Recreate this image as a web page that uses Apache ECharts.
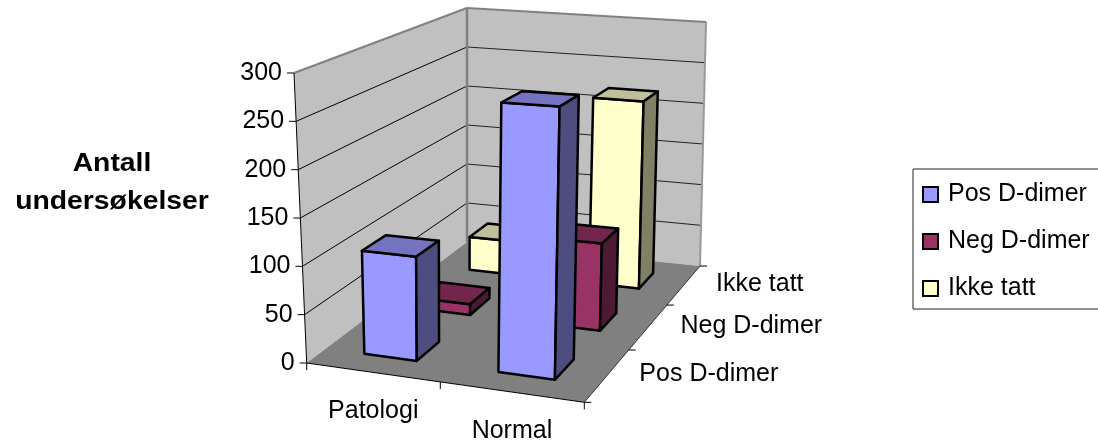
<!DOCTYPE html>
<html><head><meta charset="utf-8">
<style>html,body{margin:0;padding:0;background:#fff}#c{width:1098px;height:443px}</style>
<script src="https://cdn.jsdelivr.net/npm/echarts@6/dist/echarts.min.js"></script>
</head><body><div id="c"></div>
<script>
const categories = ['Patologi', 'Normal'];
const depthLabels = ['Pos D-dimer', 'Neg D-dimer', 'Ikke tatt'];
const valueTicks = [0, 50, 100, 150, 200, 250, 300];
const posValues = [108, 274];
const negValues = [12, 95];
const ikkeValues = [40, 220];

const FONT = '"Liberation Sans", Arial, sans-serif';
const floorQuad = [[306.7,363],[584.3,402.3],[700,266],[467,242]];
const roofQuad  = [[294,73],[590,92],[706,22],[467,8]];
function homography(q){
  const [[x0,y0],[x1,y1],[x2,y2],[x3,y3]] = q;
  const dx1=x1-x2, dx2=x3-x2, sx=x0-x1+x2-x3, dy1=y1-y2, dy2=y3-y2, sy=y0-y1+y2-y3;
  const det=dx1*dy2-dx2*dy1, g=(sx*dy2-dx2*sy)/det, h=(dx1*sy-sx*dy1)/det;
  const a=x1-x0+g*x1, b=x3-x0+h*x3, d=y1-y0+g*y1, e=y3-y0+h*y3;
  return (u,v)=>{const w=g*u+h*v+1;return [(a*u+b*v+x0)/w,(d*u+e*v+y0)/w];};
}
const floorH=homography(floorQuad), roofH=homography(roofQuad);
// u: category units, v: depth units, t: fraction of the value axis
function project(u,v,t){
  const f=floorH(u/categories.length,v/depthLabels.length), r=roofH(u/categories.length,v/depthLabels.length);
  return [f[0]+(r[0]-f[0])*t, f[1]+(r[1]-f[1])*t];
}
function axisFrac(api,val){
  const y0=api.coord([0,0])[1], y1=api.coord([0,valueTicks[valueTicks.length-1]])[1];
  return (y0-api.coord([0,val])[1])/(y0-y1);
}
const poly=(pts,fill,stroke,lw)=>({type:'polygon',shape:{points:pts},style:{fill:fill,stroke:stroke||null,lineWidth:lw||0,lineJoin:'round'},silent:true});
const line=(a,b,stroke,lw)=>({type:'line',shape:{x1:a[0],y1:a[1],x2:b[0],y2:b[1]},style:{stroke:stroke,lineWidth:lw,fill:null},silent:true});
const txt=(s,x,y,align)=>({type:'text',x:x,y:y,style:{text:s,fill:'#000',font:'25px '+FONT,align:align,verticalAlign:'middle'},silent:true});

function renderFrame(params,api){
  const n=categories.length,m=depthLabels.length,c=[];
  c.push(poly([project(0,0,0),project(0,m,0),project(0,m,1),project(0,0,1)],'#C0C0C0'));
  c.push(poly([project(0,m,0),project(n,m,0),project(n,m,1),project(0,m,1)],'#C0C0C0'));
  c.push(poly([project(0,0,0),project(n,0,0),project(n,m,0),project(0,m,0)],'#808080'));
  valueTicks.forEach(val=>{
    const t=axisFrac(api,val);
    if(val>0&&val<valueTicks[valueTicks.length-1]){
      c.push(line(project(0,0,t),project(0,m,t),'#000',1));
      c.push(line(project(0,m,t),project(n,m,t),'#222',1));
    }
    const p=project(0,0,t);
    c.push(line([p[0]-7,p[1]],p,'#000',1));
    c.push(txt(String(val),p[0]-12,p[1],'right'));
  });
  c.push(line(project(0,m,0),project(0,m,1),'#808080',2.5));
  c.push(line(project(0,0,1),project(0,m,1),'#808080',2));
  c.push(line(project(0,m,1),project(n,m,1),'#808080',2));
  c.push(line(project(n,m,0),project(n,m,1),'#999',2));
  c.push(line(project(0,0,0),project(0,0,1),'#000',1));
  c.push(line(project(0,0,0),project(n,0,0),'#000',1));
  c.push(line(project(n,0,0),project(n,m,0),'#333',1));
  for(let i=0;i<=n;i++){const p=project(i,0,0);c.push(line(p,[p[0],p[1]+7],'#000',1));}
  for(let j=0;j<=m;j++){const p=project(n,j,0);c.push(line(p,[p[0]+7,p[1]],'#000',1));}
  categories.forEach((s,i)=>{const p=project(i+.5,0,0);c.push(txt(s,p[0]+1,p[1]+39,'center'));});
  depthLabels.forEach((s,j)=>{const p=project(n,j+.5,0);c.push(txt(s,p[0]+32,p[1]-1,'left'));});
  return {type:'group',children:c};
}
function shade(hex,k){
  const v=parseInt(hex.slice(1),16),f=x=>Math.round(x*k);
  return 'rgb('+f(v>>16)+','+f((v>>8)&255)+','+f(v&255)+')';
}
function barRenderer(depth,color){
  return function(params,api){
    const i=api.value(0),t=axisFrac(api,api.value(1));
    const u0=i+.3,u1=i+.7,v0=depth+.3,v1=depth+.7;
    const fb=[project(u0,v0,0),project(u1,v0,0)],ft=[project(u0,v0,t),project(u1,v0,t)];
    const bb=project(u1,v1,0),bt=[project(u0,v1,t),project(u1,v1,t)];
    return {type:'group',children:[
      poly([fb[0],fb[1],ft[1],ft[0]],color,'#000',2.5),
      poly([ft[0],ft[1],bt[1],bt[0]],shade(color,.75),'#000',2.5),
      poly([fb[1],bb,bt[1],ft[1]],shade(color,.5),'#000',2.5)
    ]};
  };
}
const pairs=vals=>vals.map((v,i)=>[i,v]);
const barSeries=(name,vals,depth,color)=>({
  type:'custom',name:name,data:pairs(vals),encode:{x:0,y:1},
  itemStyle:{color:color,borderColor:'#000',borderWidth:2},
  renderItem:barRenderer(depth,color),silent:true,animation:false
});
const chart=echarts.init(document.getElementById('c'),null,{renderer:'canvas'});
chart.setOption({
  animation:false,
  backgroundColor:'#fff',
  grid:{left:294,top:73,width:290,height:290},
  xAxis:{type:'category',data:categories,show:false},
  yAxis:{type:'value',min:0,max:300,interval:50,show:false},
  legend:{
    data:depthLabels,orient:'vertical',left:913,top:169,
    padding:[13,30,8,9],itemGap:22,itemWidth:15,itemHeight:15,icon:'rect',
    borderColor:'#222',borderWidth:1,backgroundColor:'#fff',
    textStyle:{fontFamily:'Liberation Sans',fontSize:25,color:'#000',padding:[0,0,0,5]},
    selectedMode:false
  },
  graphic:[{type:'text',x:112,y:183,scaleX:1.09,silent:true,
    style:{text:'Antall\nundersøkelser',fill:'#000',font:'bold 26px '+FONT,lineHeight:38,align:'center',verticalAlign:'middle'}}],
  series:[
    {type:'custom',data:[[0,0]],encode:{x:0,y:1},renderItem:renderFrame,silent:true,animation:false},
    barSeries(depthLabels[2],ikkeValues,2,'#FFFFCC'),
    barSeries(depthLabels[1],negValues,1,'#993366'),
    barSeries(depthLabels[0],posValues,0,'#9999FF')
  ]
});
</script></body></html>
